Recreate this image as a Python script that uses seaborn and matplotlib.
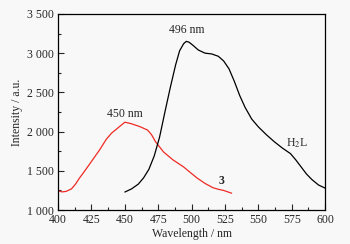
import pandas as pd
import matplotlib.pyplot as plt
import matplotlib.ticker as mticker
import seaborn as sns

# emission of complex 3 (red)
wl_3 = [400, 403, 406, 410, 413, 416, 420, 425, 431, 436, 440, 445, 450, 455, 461, 467, 470,
        473, 479, 486, 494, 500, 504, 510, 516, 520, 524, 530]
int_3 = [1245, 1232, 1238, 1270, 1330, 1408, 1500, 1620, 1765, 1900, 1980, 2050, 2120, 2100,
         2065, 2020, 1960, 1870, 1740, 1640, 1550, 1465, 1410, 1340, 1285, 1265, 1250, 1215]

# emission of ligand H2L (black)
wl_h2l = [450, 455, 460, 464, 468, 472, 476, 480, 484, 488, 491, 494, 496, 498, 501, 505, 510,
          515, 520, 524, 528, 532, 536, 540, 545, 550, 556, 562, 568, 574, 578, 582, 586, 590,
          595, 600]
int_h2l = [1230, 1270, 1330, 1410, 1520, 1690, 1930, 2250, 2560, 2850, 3030, 3120, 3150, 3140,
           3100, 3040, 3000, 2990, 2960, 2900, 2800, 2640, 2460, 2310, 2160, 2060, 1960, 1870,
           1790, 1720, 1640, 1550, 1460, 1390, 1320, 1280]

df3 = pd.DataFrame({"Wavelength": wl_3, "Intensity": int_3})
dfl = pd.DataFrame({"Wavelength": wl_h2l, "Intensity": int_h2l})

sns.set_style("ticks")
plt.rcParams["font.family"] = ["Liberation Serif", "DejaVu Serif"]
plt.rcParams["mathtext.fontset"] = "stix"

fig = plt.figure(figsize=(3.5, 2.44), dpi=100, facecolor="#f8f8f8")
ax = fig.add_axes([0.166, 0.139, 0.763, 0.804])
ax.set_facecolor("#f8f8f8")

sns.lineplot(data=df3, x="Wavelength", y="Intensity", color="#ee2a24", lw=0.9, ax=ax)
sns.lineplot(data=dfl, x="Wavelength", y="Intensity", color="black", lw=0.9, ax=ax)

ax.set_xlim(400, 600)
ax.set_ylim(1000, 3500)
ax.xaxis.set_major_locator(mticker.MultipleLocator(25))
ax.xaxis.set_minor_locator(mticker.MultipleLocator(12.5))
ax.yaxis.set_major_locator(mticker.MultipleLocator(500))
ax.yaxis.set_minor_locator(mticker.MultipleLocator(250))
ax.yaxis.set_major_formatter(mticker.FuncFormatter(lambda v, p: f"{int(v):,}".replace(",", " ")))
ax.tick_params(which="both", direction="in", top=False, right=False, labelsize=8.5)
ax.tick_params(axis="x", pad=3)
ax.tick_params(axis="y", pad=3)
ax.tick_params(which="major", length=4, width=0.8)
ax.tick_params(which="minor", length=2, width=0.8)
for s in ax.spines.values():
    s.set_linewidth(0.9)
    s.set_color("black")

ax.set_xlabel("Wavelength / nm", fontsize=8.5, labelpad=1)
ax.set_ylabel("Intensity / a.u.", fontsize=8.5, labelpad=3)

ax.text(450, 2150, "450 nm", fontsize=8.5, ha="center", va="bottom")
ax.text(496, 3220, "496 nm", fontsize=8.5, ha="center", va="bottom")
ax.text(579, 1760, "H$_2$L", fontsize=8.5, ha="center", va="bottom")
ax.text(522, 1300, "3", fontsize=8.5, fontweight="bold", ha="center", va="bottom")

plt.savefig("out.png", dpi=100, facecolor=fig.get_facecolor())
